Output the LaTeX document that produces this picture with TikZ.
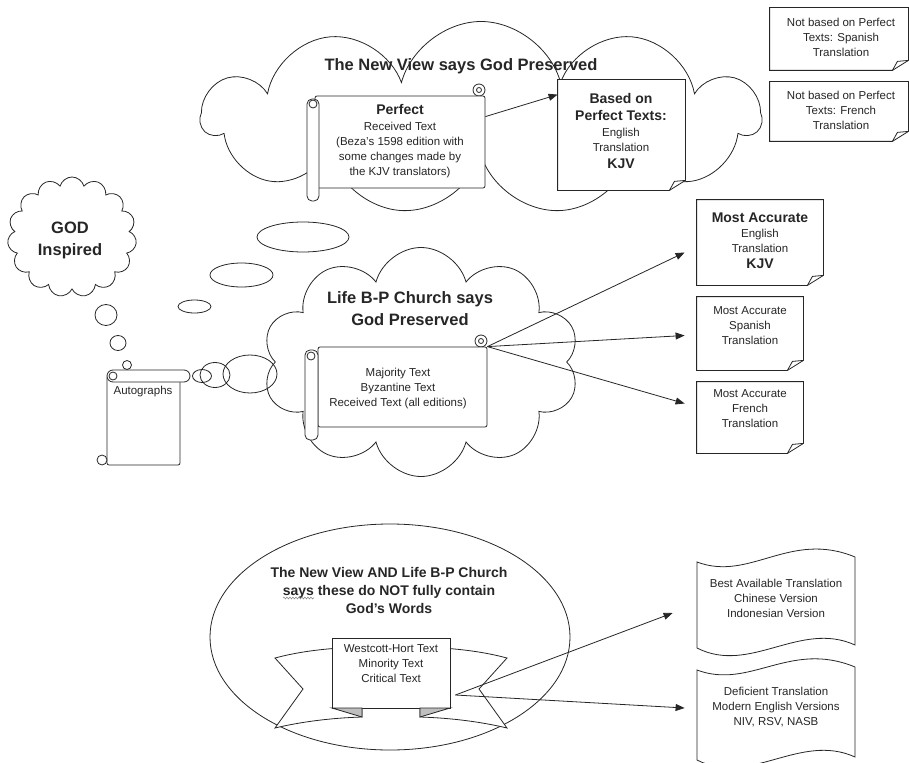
\documentclass[tikz,border=0pt]{standalone}
\usepackage{fontspec}
\setmainfont{Liberation Sans}
\usetikzlibrary{shapes.symbols,shapes.geometric,arrows.meta,calc,decorations.pathmorphing}
\newcommand\bigT{\fontsize{16.5}{22}\selectfont\bfseries}
\newcommand\medT{\fontsize{14}{18}\selectfont\bfseries}
\newcommand\smT{\fontsize{11.5}{15}\selectfont}
\newcommand\foldbox[1]{%
  \draw[fill=white] (#1.north west) -- (#1.north east) -- ([yshift=10pt]#1.south east)
     -- ([xshift=-16pt]#1.south east) -- (#1.south west) -- cycle;
  \draw ([xshift=-16pt]#1.south east) -- ([xshift=-11pt,yshift=9pt]#1.south east)
     -- ([yshift=10pt]#1.south east);}
\begin{document}
\begin{tikzpicture}[x=1pt,y=-1pt,line width=0.8pt,color=black!85,
  cloudsh/.style={cloud,draw,cloud ignores aspect,inner sep=0pt},
  bubble/.style={ellipse,draw,inner sep=0pt},
  hole/.style={rectangle,inner sep=0pt},
  txt/.style={align=center,inner sep=0pt,font=\smT},
  arr/.style={-{Triangle[length=9pt,width=7pt]}}]
\useasboundingbox (0,0) rectangle (909,762);

% clouds
\node[cloudsh,cloud puffs=11,minimum width=558,minimum height=193] (topcloud) at (481,118) {};
\node[cloudsh,cloud puffs=10,minimum width=317,minimum height=229] (midcloud) at (421,362) {};
\node[cloudsh,cloud puffs=15,minimum width=129,minimum height=120] (godcloud) at (72,237) {};
\node[font=\bigT,inner sep=0pt] (toptitle) at (461,66) {The New View says God Preserved};
\node[font=\bigT,align=center,inner sep=0pt] (midtitle) at (410,309) {Life B-P Church says\\God Preserved};
\node[font=\bigT,align=center,inner sep=0pt] (godtxt) at (70,240) {GOD\\Inspired};

% thought bubbles
\node[bubble,minimum width=22,minimum height=21] (b1) at (106,315) {};
\node[bubble,minimum width=16,minimum height=15] (b2) at (118,343) {};
\node[bubble,minimum width=9,minimum height=9] (b3) at (127,365) {};
\node[bubble,minimum width=33,minimum height=13] (e1) at (194.5,306.5) {};
\node[bubble,minimum width=63,minimum height=24] (e2) at (241.5,275) {};
\node[bubble,minimum width=92,minimum height=30] (e3) at (303,237) {};
\node[bubble,minimum width=19,minimum height=13] (f1) at (202,376) {};
\node[bubble,minimum width=30,minimum height=25] (f2) at (215,375) {};
\node[bubble,minimum width=54,minimum height=38] (f3) at (250,374) {};

% Autographs scroll
\node[draw,fill=white,rounded corners=2,minimum width=73,minimum height=89,inner sep=0pt] (autog) at (143.5,420.5) {};
\draw[fill=white,rounded corners=6] (107,370) rectangle (190,382);
\draw (113,376) circle (4);
\draw[fill=white] (102,460) circle (5);
\node[txt] (autotxt) at (143,392) {Autographs};

% Perfect scroll
\draw[fill=white] (479,90) circle (6);
\node[draw,fill=white,rounded corners=2,minimum width=170,minimum height=92,inner sep=0pt] (perfect) at (400,142) {};
\draw (479,90) circle (2.5);
\draw[fill=white,rounded corners=5] (307,99) rectangle (319,201);
\draw (313,104) circle (4);
\node[txt] (perfecttxt) at (400,141.5) {{\medT Perfect}\\[1pt]Received Text\\(Beza's 1598 edition with\\some changes made by\\the KJV translators)};

% Majority scroll
\draw[fill=white] (481,341) circle (6);
\node[draw,fill=white,rounded corners=2,minimum width=169,minimum height=80,inner sep=0pt] (mscroll) at (402.5,387) {};
\draw (481,341) circle (2.5);
\draw[fill=white,rounded corners=5] (305,350) rectangle (318,440);
\draw (311,356) circle (4);
\node[txt] (mtxt) at (398,388.5) {Majority Text\\Byzantine Text\\Received Text (all editions)};

% folded-corner boxes
\node[hole,minimum width=127,minimum height=110] (based) at (621.5,135) {};
\foldbox{based}
\node[txt] (basedtxt) at (621,131) {{\medT Based on}\\[2pt]{\medT Perfect Texts:}\\[1pt]English\\Translation\\[2pt]{\medT KJV}};

\node[hole,minimum width=138,minimum height=62] (nbspa) at (839,39) {};
\foldbox{nbspa}
\node[txt] (nbspatxt) at (841,37) {Not based on Perfect\\Texts: Spanish\\Translation};
\node[hole,minimum width=138,minimum height=59] (nbfre) at (839,111.5) {};
\foldbox{nbfre}
\node[txt] (nbfretxt) at (841,110.5) {Not based on Perfect\\Texts: French\\Translation};

\node[hole,minimum width=126,minimum height=85] (eng) at (760,242.5) {};
\foldbox{eng}
\node[txt] (engtxt) at (760,240.5) {{\medT Most Accurate}\\English\\Translation\\[1pt]{\medT KJV}};
\node[hole,minimum width=106,minimum height=73] (spa) at (750,333.5) {};
\foldbox{spa}
\node[txt] (spatxt) at (750,325.5) {Most Accurate\\Spanish\\Translation};
\node[hole,minimum width=106,minimum height=71] (fre) at (750,417.5) {};
\foldbox{fre}
\node[txt] (fretxt) at (750,408.5) {Most Accurate\\French\\Translation};

% arrows upper
\draw[arr] ([yshift=-21pt]perfect.north east) -- ([yshift=-15pt]based.north west);
\draw[arr] (mscroll.north east) -- ([xshift=-12pt,yshift=-10pt]eng.west);
\draw[arr] (mscroll.north east) -- ([xshift=-12pt,yshift=-2pt]spa.west);
\draw[arr] (mscroll.north east) -- ([xshift=-12pt,yshift=14pt]fre.west);

% bottom oval
\node[ellipse,draw,minimum width=360,minimum height=226,inner sep=0pt] (oval) at (390,637) {};
\node[font=\medT,align=center,inner sep=0pt] (ovaltxt) at (389,590) {The New View AND Life B-P Church\\says these do NOT fully contain\\God's Words};
\draw[black!45,line width=0.6pt,decorate,decoration={snake,amplitude=0.9pt,segment length=3pt}]
  ([xshift=-106pt,yshift=-8pt]ovaltxt.center) -- ([xshift=-75pt,yshift=-8pt]ovaltxt.center);

% ribbon
\draw[fill=white] (340,648) .. controls (310,650) and (290,654) .. (275,658) -- (303,689) -- (275,728)
   .. controls (300,722) and (330,718) .. (362,717) -- (362,700);
\draw[fill=white] (442,648) .. controls (472,650) and (492,654) .. (507,658) -- (479,689) -- (507,728)
   .. controls (482,722) and (452,718) .. (420,717) -- (420,700);
\node[draw,fill=white,minimum width=118,minimum height=70,inner sep=0pt] (wh) at (391,673) {};
\draw[fill=black!25] (332,708) -- (362,708) -- (362,717) -- cycle;
\draw[fill=black!25] (420,708) -- (450,708) -- (420,717) -- cycle;
\node[txt] (whtxt) at (391,664) {Westcott-Hort Text\\Minority Text\\Critical Text};

% wave boxes
\node[hole,minimum width=158,minimum height=85] (best) at (776,600) {};
\draw (697,562) .. controls (750,582) and (790,530) .. (855,557) -- (855,645)
   .. controls (800,620) and (750,675) .. (697,648) -- cycle;
\node[txt] (besttxt) at (776,598.5) {Best Available Translation\\Chinese Version\\Indonesian Version};
\node[hole,minimum width=158,minimum height=90] (defic) at (776,713) {};
\draw (697,670) .. controls (750,690) and (790,640) .. (855,667) -- (855,757)
   .. controls (800,732) and (750,787) .. (697,760) -- cycle;
\node[txt] (defictxt) at (776,707) {Deficient Translation\\Modern English Versions\\NIV, RSV, NASB};

% arrows lower
\coordinate (wstart) at ([xshift=5pt,yshift=-22pt]wh.east);
\draw[arr] (wstart) -- ([xshift=-24pt,yshift=-13pt]best.west);
\draw[arr] (wstart) -- ([xshift=-12pt,yshift=5pt]defic.west);
\end{tikzpicture}
\end{document}
